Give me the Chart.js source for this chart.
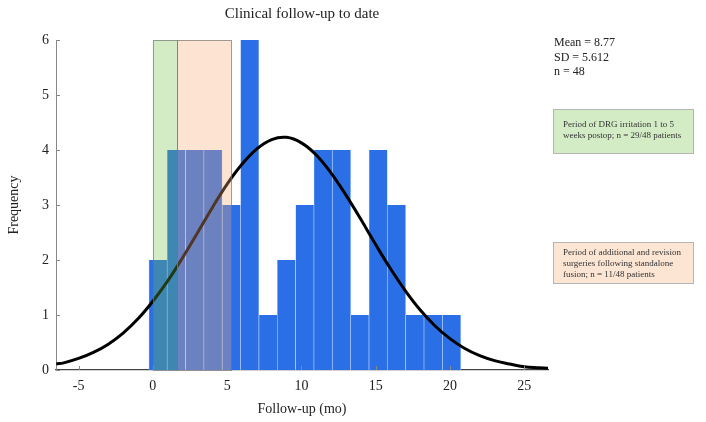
<!DOCTYPE html>
<html>
<head>
<meta charset="utf-8">
<script src="https://cdn.jsdelivr.net/npm/chart.js@4"></script>
<style>
  html, body { margin: 0; padding: 0; background: #fff; }
  #wrap { width: 706px; height: 422px; }
</style>
</head>
<body>
<div id="wrap"><canvas id="myChart" width="706" height="422"></canvas></div>
<script>
// histogram bins (bin centre, months) and counts
let binCenters = [0.35, 1.58, 2.82, 4.05, 5.29, 6.52, 7.76, 8.99, 10.23, 11.46, 12.70, 13.93, 15.17, 16.40, 17.64, 18.87, 20.11];
let counts     = [2, 4, 4, 4, 3, 6, 1, 2, 3, 4, 4, 1, 4, 3, 1, 1, 1];

// fitted curve
let curveX = [-6.5, -6, -5, -4, -3, -2, -1, 0, 1, 2, 3, 4, 5, 6, 7, 8, 9, 10, 11, 12, 13, 14, 15, 16, 17, 18, 19, 20, 21, 22, 23, 24, 25, 26, 26.6];
let curveY = [0.11, 0.13, 0.21, 0.32, 0.47, 0.67, 0.93, 1.25, 1.62, 2.04, 2.49, 2.95, 3.38, 3.74, 4.02, 4.19, 4.23, 4.13, 3.91, 3.58, 3.18, 2.74, 2.28, 1.84, 1.44, 1.09, 0.80, 0.57, 0.39, 0.26, 0.17, 0.11, 0.06, 0.04, 0.03];

let xTicks = [-5, 0, 5, 10, 15, 20, 25];

// shaded periods (months)
let periodStart = [0, 1.64];
let periodEnd   = [1.64, 5.3];
let periodTop   = 6;

let statsLines  = ['Mean = 8.77', 'SD = 5.612', 'n = 48'];
let drgLines    = ['Period of DRG irritation 1 to 5', 'weeks postop; n = 29/48 patients'];
let revLines    = ['Period of additional and revision', 'surgeries following standalone', 'fusion; n = 11/48 patients'];

const serif = '"Liberation Serif", "Times New Roman", serif';
const periodFill = ['rgba(113,193,63,0.30)', 'rgba(248,168,111,0.32)'];

let periodsPlugin = {
  id: 'periods',
  afterDatasetsDraw(chart) {
    let {ctx, scales: {x, y}} = chart;
    ctx.save();
    for (let i = 0; i < periodStart.length; i++) {
      let x1 = x.getPixelForValue(periodStart[i]);
      let x2 = x.getPixelForValue(periodEnd[i]);
      let y1 = y.getPixelForValue(periodTop);
      let y2 = y.getPixelForValue(0);
      ctx.fillStyle = periodFill[i];
      ctx.fillRect(x1, y1, x2 - x1, y2 - y1);
      ctx.strokeStyle = 'rgba(110,110,110,0.65)';
      ctx.lineWidth = 1;
      ctx.strokeRect(Math.round(x1) + 0.5, Math.round(y1) + 0.5, Math.round(x2 - x1), Math.round(y2 - y1));
    }
    ctx.restore();
  },
  afterDraw(chart) {
    let {ctx, chartArea, scales: {x, y}} = chart;
    ctx.save();
    // small inward tick marks
    ctx.strokeStyle = '#888';
    ctx.lineWidth = 1;
    y.ticks.forEach(t => {
      let py = Math.round(y.getPixelForValue(t.value)) + 0.5;
      ctx.beginPath(); ctx.moveTo(chartArea.left, py); ctx.lineTo(chartArea.left + 4, py); ctx.stroke();
    });
    x.ticks.forEach(t => {
      let px = Math.round(x.getPixelForValue(t.value)) + 0.5;
      ctx.beginPath(); ctx.moveTo(px, chartArea.bottom); ctx.lineTo(px, chartArea.bottom - 4); ctx.stroke();
    });

    // stats text
    ctx.fillStyle = '#222';
    ctx.textBaseline = 'middle';
    ctx.textAlign = 'left';
    ctx.font = '12px ' + serif;
    statsLines.forEach((s, i) => ctx.fillText(s, 554, 43 + i * 14.5));

    // annotation boxes
    let box = (top, h, fill, lines, firstY, step) => {
      ctx.fillStyle = fill;
      ctx.fillRect(553, top, 140, h);
      ctx.strokeStyle = '#b5b5b5';
      ctx.strokeRect(553.5, top + 0.5, 140, h);
      ctx.fillStyle = '#333';
      ctx.font = '9px ' + serif;
      lines.forEach((s, i) => ctx.fillText(s, 563, firstY + i * step));
    };
    box(109, 44, '#d4ecc6', drgLines, 125, 11);
    box(242, 41, '#fde5d3', revLines, 253, 10.7);
    ctx.restore();
  }
};

let ctx = document.getElementById('myChart').getContext('2d');
let chart = new Chart(ctx, {
  type: 'bar',
  data: {
    datasets: [{
      type: 'line',
      data: curveX.map((v, i) => ({x: v, y: curveY[i]})),
      borderColor: '#000',
      borderWidth: 3,
      pointRadius: 0,
      tension: 0.4,
      fill: false
    }, {
      type: 'bar',
      data: binCenters.map((v, i) => ({x: v, y: counts[i]})),
      backgroundColor: '#2a6fe6',
      borderColor: 'rgba(185,212,250,0.95)',
      borderWidth: {left: 0.6, right: 0.6, top: 0, bottom: 0},
      borderSkipped: false,
      categoryPercentage: 1,
      barPercentage: 1
    }]
  },
  options: {
    responsive: false,
    animation: false,
    devicePixelRatio: 1,
    layout: {padding: {left: 0, right: 158, top: 0, bottom: 0}},
    plugins: {
      legend: {display: false},
      tooltip: {enabled: false},
      title: {
        display: true,
        text: 'Clinical follow-up to date',
        fullSize: false,
        color: '#222',
        font: {family: serif, size: 15, weight: 'normal'},
        padding: {top: 5, bottom: 17}
      }
    },
    scales: {
      x: {
        type: 'linear',
        min: -6.52,
        max: 26.6,
        offset: false,
        grid: {display: false, offset: false, drawTicks: false},
        border: {display: true, color: '#444', width: 1.2},
        afterBuildTicks: s => { s.ticks = xTicks.map(v => ({value: v})); },
        afterFit: s => { s.height = 52; },
        ticks: {
          color: '#222',
          padding: 8,
          maxRotation: 0,
          font: {family: serif, size: 14}
        },
        title: {
          display: true,
          text: 'Follow-up (mo)',
          color: '#222',
          font: {family: serif, size: 14},
          padding: {top: 4, bottom: 4}
        }
      },
      y: {
        min: 0,
        max: 6,
        grid: {display: false, drawTicks: false},
        border: {display: true, color: '#888', width: 1},
        afterFit: s => { s.width = 56; },
        ticks: {
          stepSize: 1,
          color: '#222',
          padding: 7,
          font: {family: serif, size: 14}
        },
        title: {
          display: true,
          text: 'Frequency',
          color: '#222',
          font: {family: serif, size: 14},
          padding: {top: 6, bottom: 4}
        }
      }
    }
  },
  plugins: [periodsPlugin]
});
</script>
</body>
</html>
